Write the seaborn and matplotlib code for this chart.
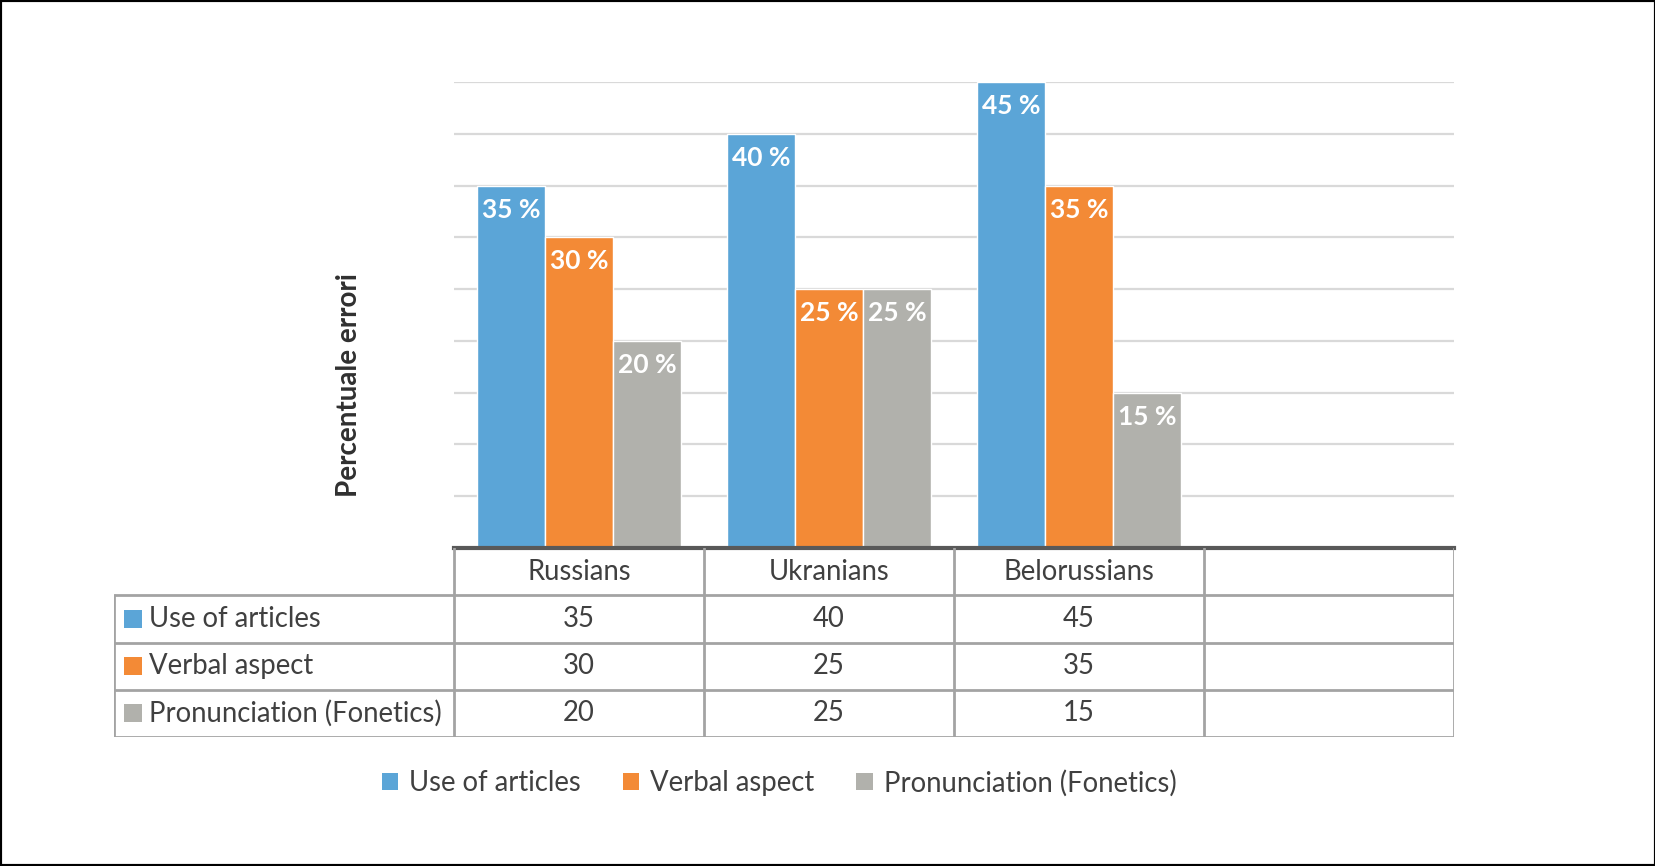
import matplotlib
matplotlib.use("Agg")
import matplotlib.pyplot as plt
import seaborn as sns
import pandas as pd
from matplotlib.patches import Rectangle, Patch

# ---- data ----
categories = ["Russians", "Ukranians", "Belorussians"]
series_names = ["Use of articles", "Verbal aspect", "Pronunciation (Fonetics)"]
use_of_articles = [35, 40, 45]
verbal_aspect = [30, 25, 35]
pronunciation = [20, 25, 15]
y_ticks = [0, 5, 10, 15, 20, 25, 30, 35, 40, 45]
y_label = "Percentuale errori"
colors = ["#5BA5D7", "#F38A36", "#B1B1AC"]

values = [use_of_articles, verbal_aspect, pronunciation]
df = pd.DataFrame({
    "group": categories * len(series_names),
    "series": [s for s in series_names for _ in categories],
    "value": use_of_articles + verbal_aspect + pronunciation,
})
order = categories + [""]

sns.set_theme(style="white")
plt.rcParams['font.family'] = ['Lato', 'DejaVu Sans']

W, H = 1656, 866
fig = plt.figure(figsize=(W / 100, H / 100), dpi=100)
fig.patch.set_facecolor("white")


def fx(px):
    return px / W


def fy(py):
    return 1 - py / H


FS = 19.8
left, right, top, base, tbottom, tleft = 454, 1454, 82, 548, 737, 114
ax = fig.add_axes([fx(left), fy(base), fx(right) - fx(left), fy(top) - fy(base)])
sns.barplot(data=df, x="group", y="value", hue="series", order=order,
            hue_order=series_names, palette=colors, width=0.815, saturation=1,
            edgecolor="white", linewidth=1.0, ax=ax, legend=False, errorbar=None)
ax.set_xlim(-0.5, len(order) - 0.5)
ax.set_ylim(y_ticks[0], y_ticks[-1])
ax.set_yticks(y_ticks)
ax.set_yticklabels([])
ax.set_xticks([])
ax.set_xlabel("")
ax.set_ylabel("")
ax.grid(axis="y", color="#D9D9D9", linewidth=1.6)
ax.set_axisbelow(True)
for s in ["left", "right", "top"]:
    ax.spines[s].set_visible(False)
ax.spines["bottom"].set_color("#595959")
ax.spines["bottom"].set_linewidth(3)
ax.spines["bottom"].set_zorder(5)

for cont in ax.containers:
    for bar in cont:
        h = bar.get_height()
        if h and h > 0:
            ax.annotate(f"{int(h)} %", (bar.get_x() + bar.get_width() / 2, h),
                        xytext=(0, -12), textcoords="offset pixels",
                        ha="center", va="top", color="white",
                        fontsize=19, fontweight="bold")

fig.text(fx(349), fy(385), y_label, rotation=90, ha="center", va="center",
         fontsize=20, fontweight="bold", color="#303030")

# ---- data table ----
tax = fig.add_axes([fx(tleft), fy(tbottom), fx(right) - fx(tleft), fy(base) - fy(tbottom)])
unit = (right - left) / len(order)
lab_w = (left - tleft) / unit
x0 = -0.5 - lab_w
tax.set_xlim(x0, len(order) - 0.5)
tax.set_ylim(len(series_names) + 1, 0)
tax.axis("off")
lc, lw = "#A3A3A3", 2
nrows = len(series_names) + 1
for r in range(1, nrows + 1):
    tax.plot([x0, len(order) - 0.5], [r, r], color=lc, lw=lw, solid_capstyle="butt")
tax.plot([x0, x0], [1, nrows], color=lc, lw=lw)
for i in range(len(order) + 1):
    tax.plot([i - 0.5, i - 0.5], [0, nrows], color=lc, lw=lw)
txt_color = "#404040"
for i, c in enumerate(categories):
    tax.text(i, 0.5, c, ha="center", va="center", fontsize=FS, color=txt_color)
for r, (name, vals) in enumerate(zip(series_names, values)):
    y = r + 1.5
    tax.scatter([x0 + 19 / unit], [y], marker="s", s=150, color=colors[r], linewidths=0)
    tax.text(x0 + 35 / unit, y, name, ha="left", va="center", fontsize=FS, color=txt_color)
    for i, v in enumerate(vals):
        tax.text(i, y, str(v), ha="center", va="center", fontsize=FS, color=txt_color)

# ---- legend ----
handles = [Patch(facecolor=c, edgecolor="none", label=n) for c, n in zip(colors, series_names)]
leg = fig.legend(handles=handles, loc="center", bbox_to_anchor=(fx(779), fy(783)), ncol=3,
                 frameon=False, fontsize=FS, handlelength=0.6, handleheight=0.6,
                 handletextpad=0.4, columnspacing=1.52)
for t in leg.get_texts():
    t.set_color(txt_color)

fig.patches.append(Rectangle((0, 0), 1, 1, transform=fig.transFigure, fill=False,
                             edgecolor="black", linewidth=3))

fig.savefig("out.png", dpi=100, facecolor="white")
